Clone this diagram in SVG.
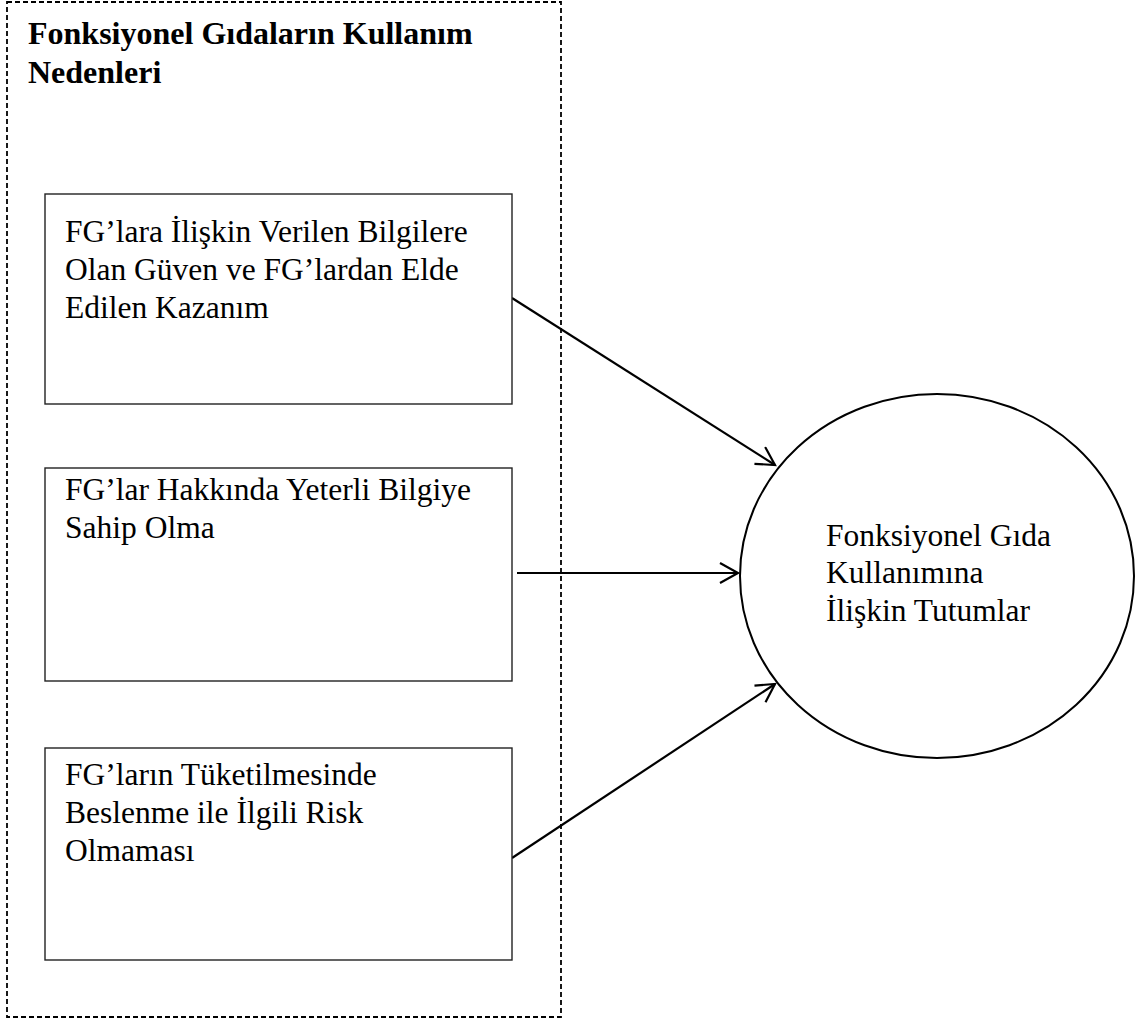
<svg xmlns="http://www.w3.org/2000/svg" width="1144" height="1019" viewBox="0 0 1144 1019">
<style>
.box{fill:#fff;stroke:#222;stroke-width:1.4}
.t{font-family:"Liberation Serif","Times New Roman",serif;font-size:31.5px;fill:#000}
.title{font-family:"Liberation Serif","Times New Roman",serif;font-size:32px;font-weight:bold;fill:#000}
.conn{stroke:#000;stroke-width:2.2;fill:none;marker-end:url(#arr)}
</style>
<defs>
<marker id="arr" markerUnits="userSpaceOnUse" markerWidth="24" markerHeight="26" refX="19" refY="11" orient="auto">
<path d="M1,1 L19,11 L1,21" fill="none" stroke="#000" stroke-width="2.2"/>
</marker>
</defs>
<rect width="1144" height="1019" fill="#fff"/>
<g id="group-outer">
<rect x="7" y="2" width="554" height="1015" fill="none" stroke="#000" stroke-width="1.8" stroke-dasharray="5 3"/>
<text class="title" x="28" y="44">Fonksiyonel Gıdaların Kullanım</text>
<text class="title" x="28" y="83">Nedenleri</text>
</g>
<g id="connectors">
<line class="conn" x1="512" y1="298" x2="775" y2="465"/>
<line class="conn" x1="517" y1="573" x2="738" y2="573"/>
<line class="conn" x1="512" y1="858" x2="775" y2="684"/>
</g>
<g id="node1">
<rect class="box" x="45" y="194" width="467" height="210"/>
<text class="t" x="65" y="242">FG’lara İlişkin Verilen Bilgilere</text>
<text class="t" x="65" y="280">Olan Güven ve FG’lardan Elde</text>
<text class="t" x="65" y="318">Edilen Kazanım</text>
</g>
<g id="node2">
<rect class="box" x="45" y="468" width="467" height="213"/>
<text class="t" x="65" y="500">FG’lar Hakkında Yeterli Bilgiye</text>
<text class="t" x="65" y="538">Sahip Olma</text>
</g>
<g id="node3">
<rect class="box" x="45" y="748" width="467" height="212"/>
<text class="t" x="65" y="785">FG’ların Tüketilmesinde</text>
<text class="t" x="65" y="823">Beslenme ile İlgili Risk</text>
<text class="t" x="65" y="861">Olmaması</text>
</g>
<g id="node4">
<ellipse cx="937" cy="576" rx="197" ry="182" fill="#fff" stroke="#000" stroke-width="2"/>
<text class="t" x="826" y="546">Fonksiyonel Gıda</text>
<text class="t" x="826" y="583">Kullanımına</text>
<text class="t" x="826" y="621">İlişkin Tutumlar</text>
</g>
</svg>
